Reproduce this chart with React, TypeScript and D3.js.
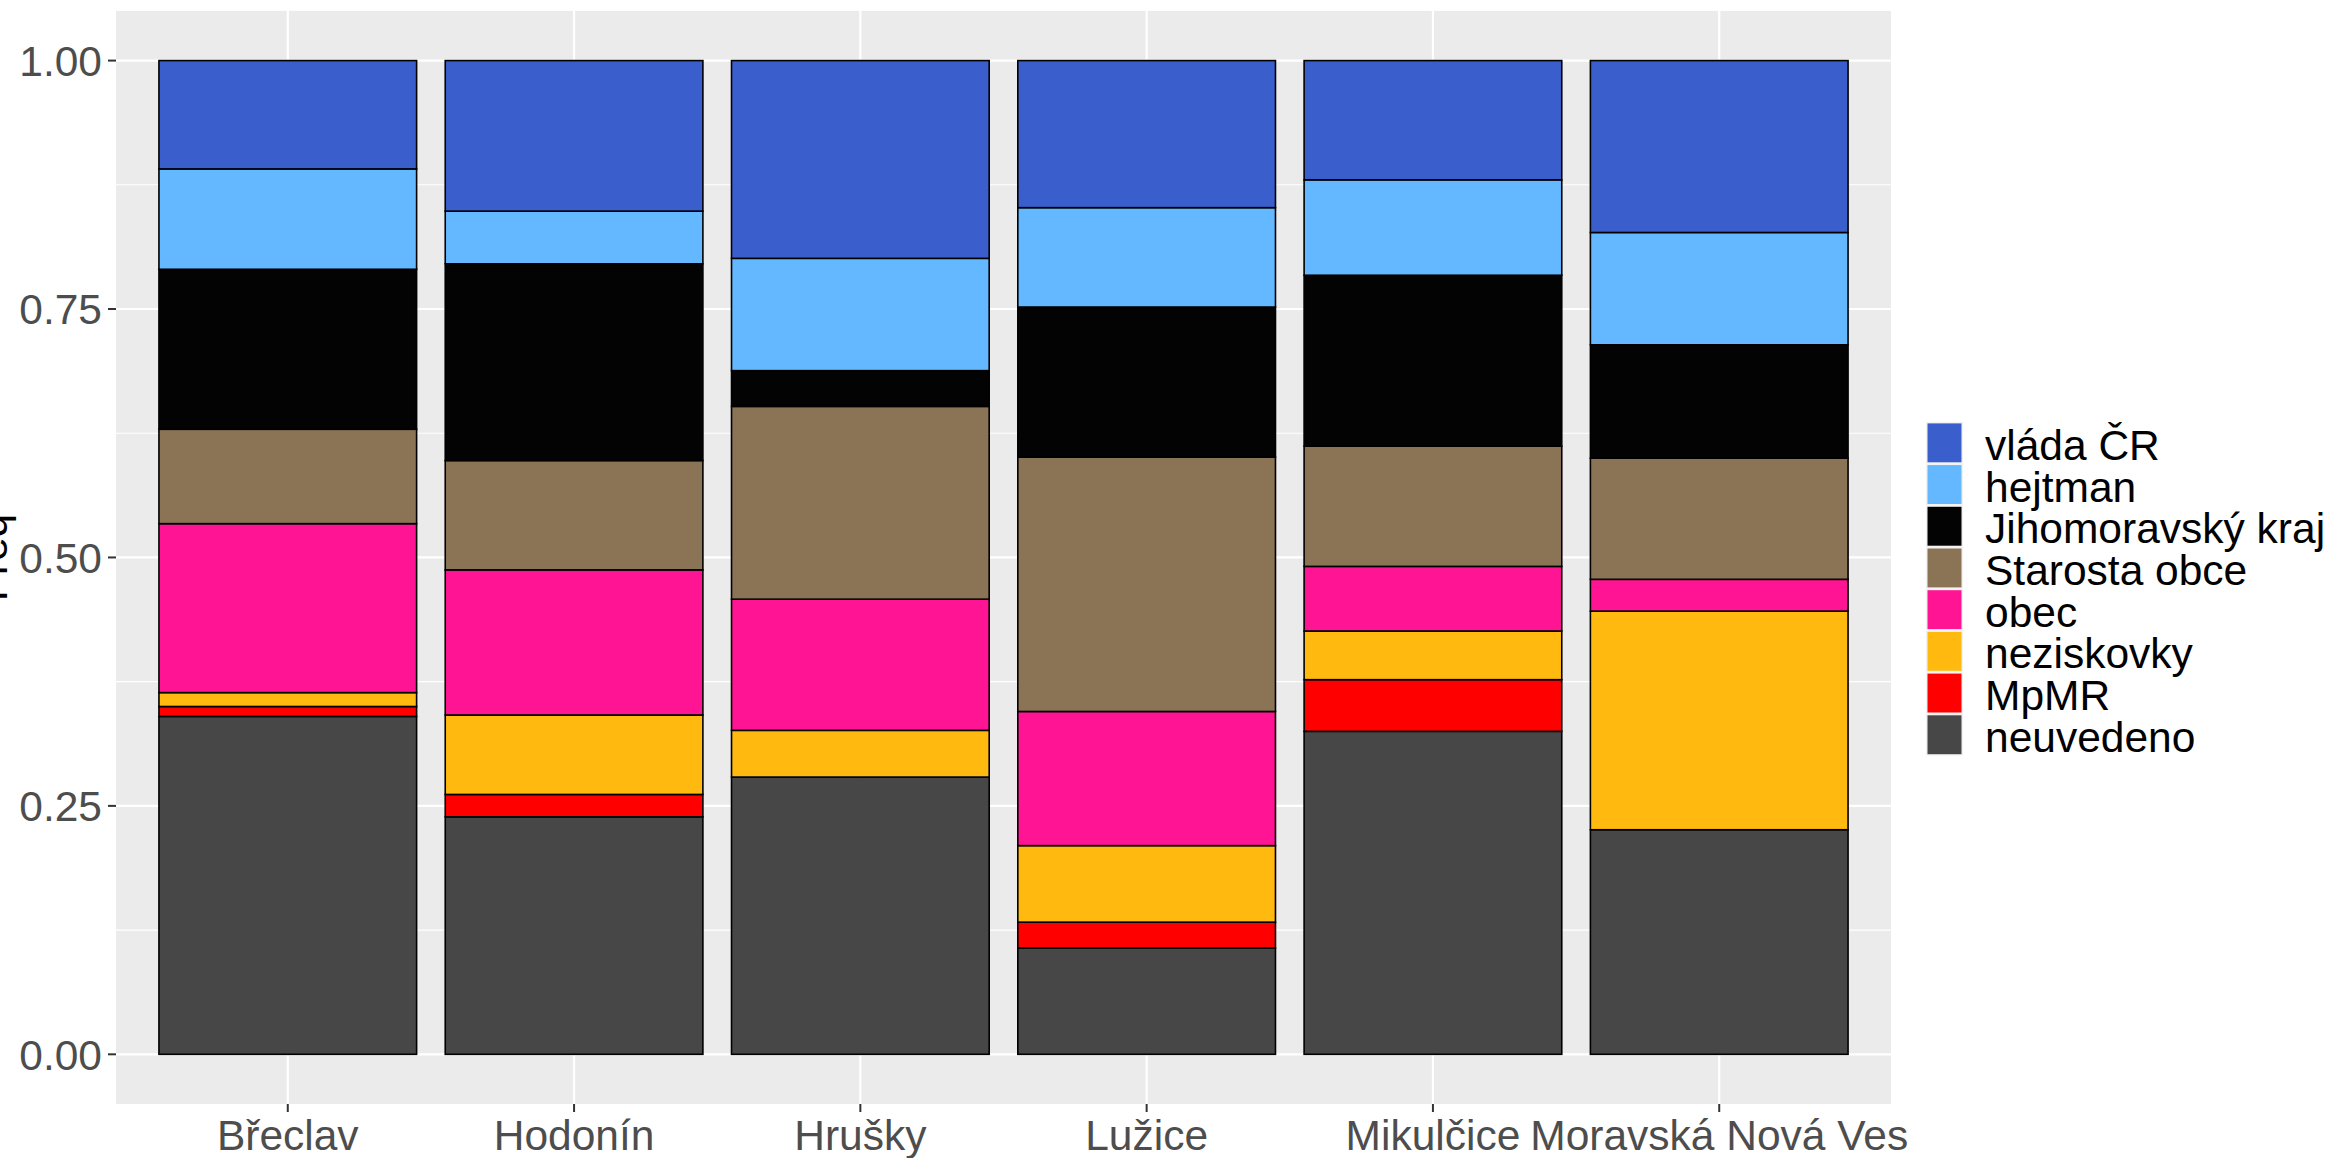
import * as d3 from 'd3';

// municipalities on the x axis
const obce = ['Břeclav', 'Hodonín', 'Hrušky', 'Lužice', 'Mikulčice', 'Moravská Nová Ves'];

// stack order bottom -> top
const kategorie = ['neuvedeno', 'MpMR', 'neziskovky', 'obec', 'Starosta obce', 'Jihomoravský kraj', 'hejtman', 'vláda ČR'];
const barvy = ['#474747', '#FF0000', '#FFB90F', '#FF1493', '#8B7355', '#030303', '#63B8FF', '#3A5FCD'];

// shares per municipality, same order as obce
const neuvedeno = [0.340, 0.239, 0.279, 0.107, 0.325, 0.226];
const mpmr = [0.010, 0.0225, 0, 0.026, 0.052, 0];
const neziskovky = [0.014, 0.080, 0.047, 0.077, 0.049, 0.220];
const obec = [0.170, 0.146, 0.132, 0.135, 0.065, 0.032];
const starosta = [0.095, 0.110, 0.194, 0.256, 0.121, 0.122];
const jmk = [0.161, 0.198, 0.036, 0.151, 0.172, 0.114];
const hejtman = [0.101, 0.053, 0.113, 0.100, 0.096, 0.113];
const vlada = [0.109, 0.1515, 0.199, 0.148, 0.120, 0.173];

const serie = [neuvedeno, mpmr, neziskovky, obec, starosta, jmk, hejtman, vlada];
const yTicks = [0, 0.25, 0.5, 0.75, 1];
const yMinor = [0.125, 0.375, 0.625, 0.875];

const W = 2337;
const H = 1158;
const FONT = '"Liberation Sans", Arial, sans-serif';

export default function App() {
  const rows = obce.map((o, i) => {
    const r: Record<string, any> = { obec: o };
    kategorie.forEach((k, j) => { r[k] = serie[j][i]; });
    return r;
  });
  const stacked = d3.stack<Record<string, any>>().keys(kategorie)(rows);

  const x = d3.scaleBand().domain(obce).range([116, 1891]).paddingInner(0.1).paddingOuter(0.15);
  const y = d3.scaleLinear().domain([-0.05, 1.05]).range([1104, 10.9]);
  const [px0, px1] = x.range();
  const [py0, py1] = y.range();
  const center = (o: string) => (x(o) ?? 0) + x.bandwidth() / 2;

  const legendX = 1926;
  const legendTop = 422;
  const pitch = 41.7;
  const legendOrder = [...kategorie].reverse();

  return (
    <svg width={W} height={H} style={{ position: 'absolute', left: 0, top: 0, background: '#fff' }} fontFamily={FONT}>
      <rect x={px0} y={py1} width={px1 - px0} height={py0 - py1} fill="#EBEBEB" />
      {yMinor.map(t => (
        <line key={'m' + t} x1={px0} x2={px1} y1={y(t)} y2={y(t)} stroke="#fff" strokeWidth={1.1} />
      ))}
      {yTicks.map(t => (
        <line key={'g' + t} x1={px0} x2={px1} y1={y(t)} y2={y(t)} stroke="#fff" strokeWidth={2.2} />
      ))}
      {obce.map(o => (
        <line key={'v' + o} x1={center(o)} x2={center(o)} y1={py1} y2={py0} stroke="#fff" strokeWidth={2.2} />
      ))}

      {stacked.map((s, j) => (
        <g key={s.key} fill={barvy[j]}>
          {s.map((d, i) => d[1] - d[0] > 0 ? (
            <rect key={i} x={x(obce[i])} width={x.bandwidth()} y={y(d[1])} height={y(d[0]) - y(d[1])}
              stroke="#000" strokeWidth={1.6} />
          ) : null)}
        </g>
      ))}

      {/* y axis */}
      {yTicks.map(t => (
        <g key={'yt' + t}>
          <line x1={px0 - 8} x2={px0} y1={y(t)} y2={y(t)} stroke="#333" strokeWidth={2} />
          <text x={px0 - 14} y={y(t)} dy="0.36em" textAnchor="end" fontSize={42.5} fill="#4D4D4D">
            {d3.format('.2f')(t)}
          </text>
        </g>
      ))}
      <text transform={`translate(7,${(py0 + py1) / 2}) rotate(-90)`} textAnchor="middle" fontSize={42.5} fill="#000">
        Freq
      </text>

      {/* x axis */}
      {obce.map(o => (
        <g key={'xt' + o}>
          <line x1={center(o)} x2={center(o)} y1={py0} y2={py0 + 8} stroke="#333" strokeWidth={2} />
          <text x={center(o)} y={1150} textAnchor="middle" fontSize={42.5} fill="#4D4D4D">{o}</text>
        </g>
      ))}

      {/* legend */}
      {legendOrder.map((k, i) => {
        const j = kategorie.indexOf(k);
        const ty = legendTop + i * pitch;
        return (
          <g key={'l' + k}>
            <rect x={legendX} y={ty} width={37} height={pitch} fill="#F2F2F2" />
            <rect x={legendX + 1.5} y={ty + 1.4} width={34} height={pitch - 2.8} fill={barvy[j]} />
            <text x={1985} y={ty + pitch / 2 + 17} fontSize={42.5} fill="#000">{k}</text>
          </g>
        );
      })}
    </svg>
  );
}
